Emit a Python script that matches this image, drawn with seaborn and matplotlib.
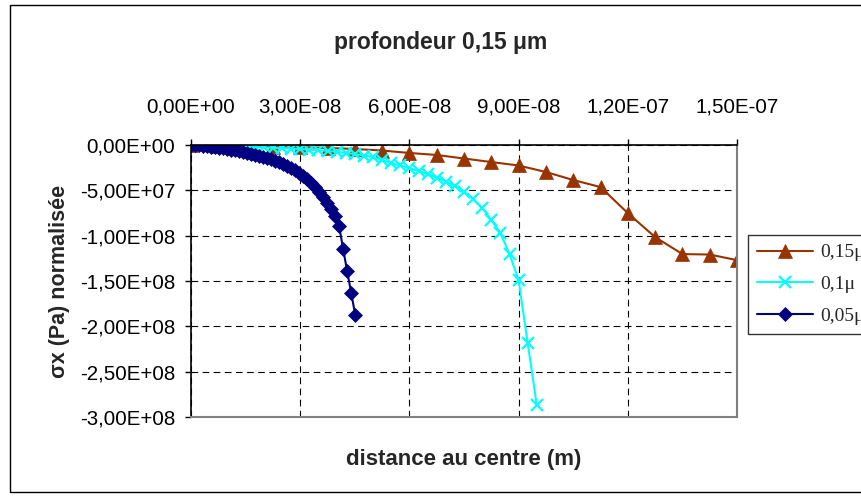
import pandas as pd
import seaborn as sns
from matplotlib import pyplot as plt
from matplotlib.patches import Rectangle
from matplotlib.ticker import FuncFormatter, MultipleLocator

# Data (x in nm, sigma_x in MPa)
brown_x_nm = [0, 7.5, 15, 22.5, 30, 37.5, 45, 52.5, 60, 67.5, 75, 82.5, 90, 97.5,
              105, 112.5, 120, 127.5, 135, 142.5, 150]
brown_y = [0, -0.6, -1.1, -1.7, -2.2, -3.3, -4.4, -6.1, -8.8, -11.0, -14.9, -18.8,
           -22.6, -29.8, -38.6, -46.4, -75.1, -101.6, -120.3, -120.8, -127.0]

cyan_x_nm = [0, 2.5, 5, 7.5, 10, 12.5, 15, 17.5, 20, 22.5, 25, 27.5, 30, 32.5, 35,
             37.5, 40, 42.5, 45, 47.5, 50, 52.5, 55, 57.5, 60, 62.5, 65, 67.5, 70,
             72.5, 75, 77.5, 80, 82.5, 85, 87.5, 90, 92.5, 95]
cyan_y = [0, -0.2, -0.6, -0.9, -1.2, -1.5, -1.9, -2.2, -2.6, -3.1, -3.5, -4.0, -4.5,
          -5.1, -5.7, -6.5, -7.5, -8.7, -10.0, -11.6, -13.2, -16.6, -19.9, -22.6,
          -25.4, -28.7, -32.0, -35.9, -40.3, -45.3, -51.9, -59.6, -69.5, -82.8,
          -97.1, -120.3, -149.0, -218.5, -287.0]

navy_x_nm = [0.0, 1.1, 2.2, 3.3, 4.4, 5.5, 6.6, 7.7, 8.8, 9.9, 11.0, 12.1, 13.2, 14.3,
             15.4, 16.5, 17.6, 18.7, 19.8, 20.9, 22.0, 23.1, 24.2, 25.3, 26.4, 27.5,
             28.6, 29.7, 30.8, 31.9, 33.0, 34.1, 35.2, 36.3, 37.4, 38.5, 39.6, 40.7,
             41.8, 42.9, 44.0, 45.1]
navy_y = [0, -0.2, -0.4, -0.8, -1.2, -1.8, -2.4, -3.1, -3.8, -4.4, -5.2, -6.0, -6.7,
          -7.6, -8.5, -9.5, -10.6, -11.8, -13.1, -14.5, -15.9, -17.6, -19.2, -21.1,
          -23.1, -25.3, -27.8, -30.5, -33.7, -37.3, -41.4, -46.1, -51.3, -57.2,
          -63.5, -70.4, -78.4, -89.4, -114.8, -139.0, -163.0, -187.0]

series = [
    ('0,15μ', brown_x_nm, brown_y, '#993300', '^', 10),
    ('0,1μ', cyan_x_nm, cyan_y, '#00FFFF', 'x', 9),
    ('0,05μ', navy_x_nm, navy_y, '#000080', 'D', 7),
]

sns.set_style('white')
plt.rcParams['font.family'] = ['Liberation Sans', 'DejaVu Sans']

fig = plt.figure(figsize=(8.61, 4.97), dpi=100)
ax = fig.add_axes([191/861, 1-417/497, (737-191)/861, (417-145)/497])

for label, xs, ys, color, marker, ms in series:
    df = pd.DataFrame({'x': [v*1e-9 for v in xs], 'y': [v*1e6 for v in ys]})
    sns.lineplot(data=df, x='x', y='y', ax=ax, color=color, marker=marker,
                 markersize=ms, markeredgecolor=color, markeredgewidth=1.6 if marker == 'x' else 0.5,
                 linewidth=1.5, label=label, sort=False, estimator=None)

ax.set_xlim(0, 1.5e-7)
ax.set_ylim(-3e8, 0)
ax.xaxis.set_major_locator(MultipleLocator(3e-8))
ax.yaxis.set_major_locator(MultipleLocator(5e7))
fmt = FuncFormatter(lambda v, p: f'{v:.2E}'.replace('.', ','))
ax.xaxis.set_major_formatter(fmt)
ax.yaxis.set_major_formatter(fmt)
ax.xaxis.tick_top()
ax.tick_params(axis='x', which='both', top=True, bottom=False, direction='out',
               length=4, width=1, pad=16.5, labelsize=14.8, colors='black')
ax.tick_params(axis='y', left=True, direction='out', length=4, width=1, pad=7.5,
               labelsize=14.8, colors='black')
ax.set_xlabel('')
ax.set_ylabel('')

ax.grid(True, color='black', linestyle=(0, (6, 4)), linewidth=0.8)
ax.set_axisbelow(True)
for s in ['top', 'left']:
    ax.spines[s].set_color('black')
    ax.spines[s].set_linewidth(1.2)
for s in ['right', 'bottom']:
    ax.spines[s].set_color('#808080')
    ax.spines[s].set_linewidth(1.5)

# legend sits past the right edge, as in the original
leg = ax.legend(loc='upper left', bbox_to_anchor=(748/861, 1-235/497),
                bbox_transform=fig.transFigure, frameon=True, fancybox=False,
                borderaxespad=0, borderpad=0.45, handlelength=2.9, handletextpad=0.35,
                labelspacing=0.73, prop={'family': 'Liberation Serif', 'size': 14})
leg.get_frame().set_edgecolor('black')
leg.get_frame().set_linewidth(1)

fig.text(441/861, 1-42/497, 'profondeur 0,15 μm', ha='center', va='center',
         fontsize=16.5, fontweight='bold')
fig.text(464/861, 1-460/497, 'distance au centre (m)', ha='center', va='center',
         fontsize=16, fontweight='bold')
fig.text(60/861, 1-281/497, 'σx (Pa) normalisée', ha='center', va='center',
         rotation=90, fontsize=15.5, fontweight='bold')

fig.patches.append(Rectangle((10/861, 5/497), 1.0, 487/497, transform=fig.transFigure,
                             fill=False, edgecolor='black', linewidth=1))

fig.savefig('out.png', dpi=100)
